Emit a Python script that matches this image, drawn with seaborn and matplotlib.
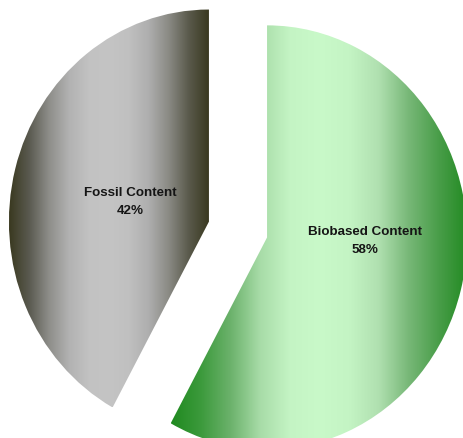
import numpy as np
import matplotlib
matplotlib.use("Agg")
import matplotlib.pyplot as plt
import seaborn as sns

# Datos del grafico
labels = ["Biobased Content", "Fossil Content"]
shares = [58, 42]

# Gradientes horizontales (oscuro - claro - oscuro) para cada porcion
bio_colors = ["#208a20", "#3c9a3c", "#6cb26c", "#a8dca8", "#c4f4c4", "#c9f9c9",
              "#c4f4c4", "#b0e0b0", "#78b878", "#4a9e4a", "#228a22"]
fossil_colors = ["#3a3920", "#5a5a50", "#8e8e8a", "#b2b2b2", "#c2c2c2", "#c4c4c4",
                 "#c0c0c0", "#aeaeae", "#8a8a84", "#5a5a4c", "#3a3920"]

sns.set_theme(style="white")
plt.rcParams['font.family'] = ['Liberation Sans', 'DejaVu Sans']

fig = plt.figure(figsize=(4.64, 4.39), dpi=100)
ax = fig.add_axes([0, 0, 1, 1])

wedges, _ = ax.pie(shares, startangle=90, counterclock=False,
                   explode=[0.15, 0.15], radius=1,
                   wedgeprops=dict(linewidth=0))

cmaps = [sns.blend_palette(bio_colors, n_colors=256, as_cmap=True),
         sns.blend_palette(fossil_colors, n_colors=256, as_cmap=True)]

grad = np.linspace(0, 1, 512).reshape(1, -1)
for w, cm in zip(wedges, cmaps):
    ext = w.get_path().get_extents()
    im = ax.imshow(grad, cmap=cm, aspect='auto', interpolation='bilinear',
                   extent=[ext.x0, ext.x1, ext.y0, ext.y1], zorder=2)
    im.set_clip_path(w)
    w.set_facecolor('none')

# Etiquetas
ax.text(0.635, -0.05, f"{labels[0]}\n{shares[0]}%", ha='center', va='center',
        fontsize=9.6, fontweight='bold', color='#151515', linespacing=1.6, zorder=3)
ax.text(-0.54, 0.134, f"{labels[1]}\n{shares[1]}%", ha='center', va='center',
        fontsize=9.6, fontweight='bold', color='#151515', linespacing=1.6, zorder=3)

ax.set_aspect('auto')
ax.set_xlim(-1.19, 1.13)
ax.set_ylim(-0.983, 1.087)
ax.axis('off')

fig.savefig("out.png", dpi=100)
